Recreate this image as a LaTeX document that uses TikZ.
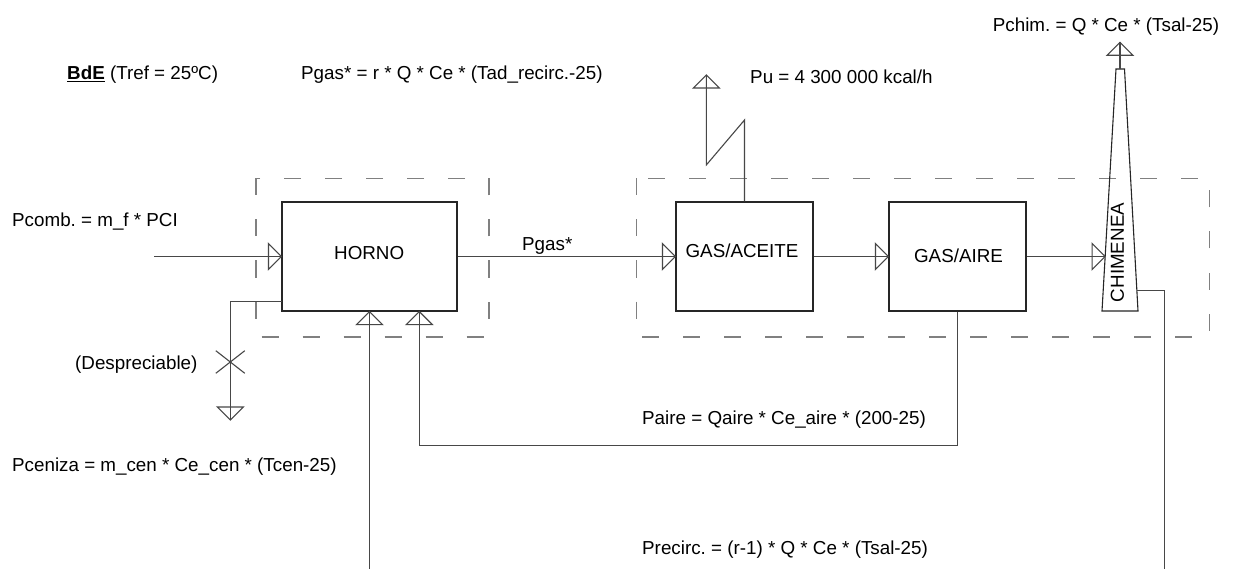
\documentclass[tikz,border=0pt]{standalone}
\usepackage{fontspec}
\setmainfont{Liberation Sans}
\usetikzlibrary{decorations.markings}
\frenchspacing
\begin{document}
\begin{tikzpicture}[x=1pt,y=-1pt,
  font=\fontsize{18.8}{22}\selectfont,
  boxst/.style={draw=black!85, line width=1.1pt, minimum width=#1, minimum height=109pt, inner sep=0pt},
  conn/.style={draw=black!72, line width=1.1pt},
  tri/.style={postaction={decorate,decoration={markings,mark=at position 1 with {\draw[draw=black!72,line width=1.1pt,fill=none,line join=miter] (0pt,0pt) -- (-13pt,13pt) -- (-13pt,-13pt) -- cycle;}}}},
  dashedbox/.style={draw=black!50, line width=1.1pt, dash pattern=on 17pt off 24pt},
  txt/.style={anchor=base west, inner sep=0pt},
  lbl/.style={inner sep=0pt}]
\fill[white] (0,0) rectangle (1236,569);
\useasboundingbox (0,0) rectangle (1236,569);

% dashed control volumes
\draw[dashedbox] (256,178.5) rectangle (489,337);
\draw[dashedbox] (636.5,178.5) rectangle (1209.5,337);

% boxes
\node[boxst=175pt] (horno) at (369.5,256.5) {};
\node[boxst=137pt] (gasaceite) at (744.5,256.5) {};
\node[boxst=137pt] (gasaire) at (957.5,256.5) {};
\node[lbl] (lhorno) at (369.2,252.7) {HORNO};
\node[lbl] (lgasaceite) at (742,250.5) {GAS/ACEITE};
\node[lbl] (lgasaire) at (958.5,255.7) {GAS/AIRE};

% chimney
\draw[draw=black!85, line width=1.1pt] (1102,311) -- (1116,69) -- (1124.5,69) -- (1138,311) -- cycle;
\node[lbl, rotate=90] (lchim) at (1117.3,252.5) {CHIMENEA};

% coordinates
\coordinate (cin) at (154,256.5);
\coordinate (chin) at (1105.1,256.5);
\coordinate (chtop) at (1120,69);
\coordinate (chtip) at (1120,42.3);
\coordinate (chout) at (1136.8,290.3);
\coordinate (chcorner) at (1164.3,290.3);
\coordinate (chend) at (1164.3,569);
\coordinate (ash0) at (282,301.3);
\coordinate (ashc) at (230.3,301.3);
\coordinate (ashend) at (230.3,420);
\coordinate (recirc) at (369.5,569);
\coordinate (pu1) at (744.5,120);
\coordinate (pu2) at (706.3,165);
\coordinate (pu3) at (706.3,75);
\coordinate (aire1) at (957.5,445.3);
\coordinate (aire2) at (419.3,445.3);

% connectors
\draw[conn,tri] (cin) -- (horno.west);
\draw[conn,tri] (horno.east) -- (gasaceite.west);
\draw[conn,tri] (gasaceite.east) -- (gasaire.west);
\draw[conn,tri] (gasaire.east) -- (chin);
\draw[conn,tri] (gasaceite.north) -- (pu1) -- (pu2) -- (pu3);
\draw[conn,tri] (chtop) -- (chtip);
\draw[conn] (chout) -- (chcorner) -- (chend);
\draw[conn,tri] (ash0) -- (ashc) -- (ashend);
\draw[conn] (215.8,350.7) -- (244.8,373.3);
\draw[conn] (215.8,373.3) -- (244.8,350.7);
\draw[conn,tri] (recirc) -- (horno.south);
\draw[conn,tri] (gasaire.south) -- (aire1) -- (aire2) -- (aire2 |- horno.south);

% texts
\node[txt] (bde) at (67,79.7) {\underline{\textbf{BdE}} (Tref = 25ºC)};
\node[txt] (pgaseq) at (301,79.7) {Pgas* = r * Q * Ce * (Tad\_recirc.-25)};
\node[txt] (pu) at (750,83.3) {Pu = 4 300 000 kcal/h};
\node[txt] (pchim) at (992.7,31.5) {Pchim. = Q * Ce * (Tsal-25)};
\node[txt] (pcomb) at (12,226.7) {Pcomb. = m\_f * PCI};
\node[txt] (pgasl) at (522,250.7) {Pgas*};
\node[txt] (desp) at (75,369.7) {(Despreciable)};
\node[txt] (pceniza) at (12,471.7) {Pceniza = m\_cen * Ce\_cen * (Tcen-25)};
\node[txt] (paire) at (642,424.7) {Paire = Qaire * Ce\_aire * (200-25)};
\node[txt] (precirc) at (642,554.7) {Precirc. = (r-1) * Q * Ce * (Tsal-25)};
\end{tikzpicture}
\end{document}
